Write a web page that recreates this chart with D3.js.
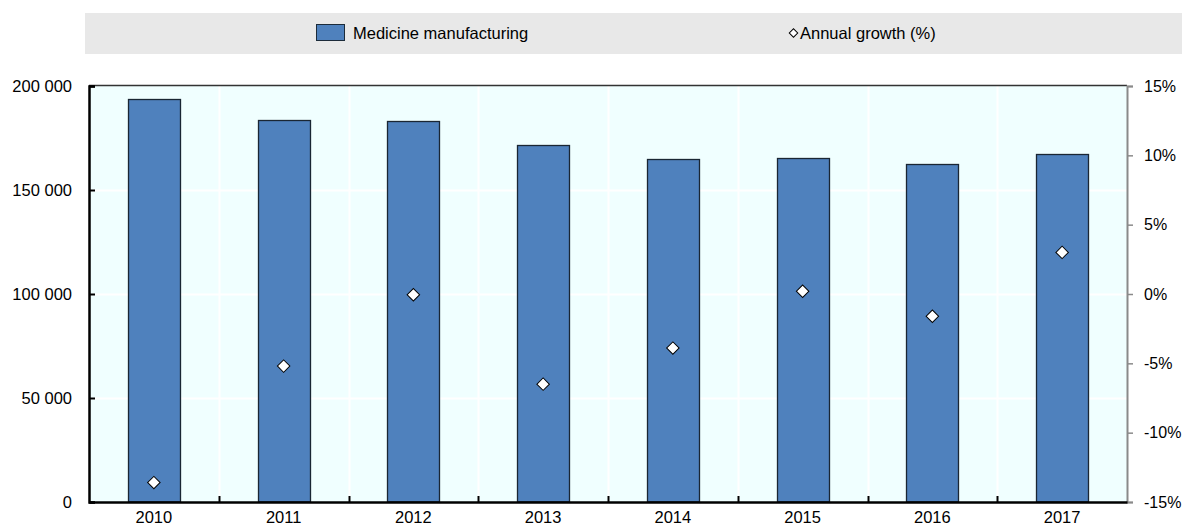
<!DOCTYPE html>
<html><head><meta charset="utf-8">
<script src="https://cdn.jsdelivr.net/npm/d3@7"></script>
<style>body{margin:0;background:#fff;} text{font-family:"Liberation Sans",Arial,sans-serif;}</style>
</head><body>
<svg id="c" width="1182" height="525"></svg>
<script>
const years = ["2010","2011","2012","2013","2014","2015","2016","2017"];
const medicine = [193700, 183700, 183200, 171600, 164900, 165300, 162400, 167300];
const growth = [-13.6, -5.2, -0.05, -6.5, -3.9, 0.2, -1.6, 3.0];
const leftTicks = [0, 50000, 100000, 150000, 200000];
const rightTicks = [-15, -10, -5, 0, 5, 10, 15];
const seriesNames = ["Medicine manufacturing", "Annual growth (%)"];

const svg = d3.select("#c");
const L = 89, R = 1127, T = 86, B = 502;
const FS = 16.5;
const x = d3.scaleBand().domain(years).range([L, R]).paddingInner(0).paddingOuter(0);
const yL = d3.scaleLinear().domain([0, 200000]).range([B, T]);
const yR = d3.scaleLinear().domain([-15, 15]).range([B, T]);
const fmt = d => d3.format(",")(d).replace(/,/g, " ");

// legend band
svg.append("rect").attr("x", 85).attr("y", 13).attr("width", 1097).attr("height", 41).attr("fill", "#E8E8E8");
svg.append("rect").attr("x", 316.5).attr("y", 24.5).attr("width", 28).attr("height", 16)
  .attr("fill", "#4F81BD").attr("stroke", "#1c2b3a").attr("stroke-width", 1);
svg.append("text").attr("x", 353).attr("y", 38.5).attr("font-size", FS).attr("fill", "#000").text(seriesNames[0]);
svg.append("path").attr("d", d3.symbol().type(d3.symbolSquare).size(36)())
  .attr("transform", "translate(793.5,33) rotate(45)").attr("fill", "#fff").attr("stroke", "#000").attr("stroke-width", 1);
svg.append("text").attr("x", 800).attr("y", 38.5).attr("font-size", FS).attr("fill", "#000").text(seriesNames[1]);

// plot background
svg.append("rect").attr("x", L).attr("y", T).attr("width", R - L).attr("height", B - T).attr("fill", "#F0FFFF");

// gridlines
svg.append("g").selectAll("line").data(leftTicks.filter(d => d > 0 && d < 200000)).join("line")
  .attr("x1", L).attr("x2", R).attr("y1", d => Math.round(yL(d)) + 0.5).attr("y2", d => Math.round(yL(d)) + 0.5)
  .attr("stroke", "#fff").attr("stroke-width", 2);
svg.append("g").selectAll("line").data(years.slice(1)).join("line")
  .attr("x1", d => Math.round(x(d)) + 0.5).attr("x2", d => Math.round(x(d)) + 0.5).attr("y1", T).attr("y2", B)
  .attr("stroke", "#fff").attr("stroke-width", 2);

// bars
const bw = 52;
svg.append("g").selectAll("rect").data(years).join("rect")
  .attr("x", (d) => Math.round(x(d) + x.bandwidth() / 2 - bw / 2) + 0.5)
  .attr("y", (d, i) => Math.round(yL(medicine[i])) + 0.5)
  .attr("width", bw)
  .attr("height", (d, i) => B - Math.round(yL(medicine[i])) - 0.5)
  .attr("fill", "#4F81BD").attr("stroke", "#1a2633").attr("stroke-width", 1.3);

// top border
svg.append("line").attr("x1", L).attr("x2", R).attr("y1", T - 0.5).attr("y2", T - 0.5).attr("stroke", "#333").attr("stroke-width", 1.5);

// left axis
const gl = svg.append("g").attr("transform", `translate(${L},0)`)
  .call(d3.axisLeft(yL).tickValues(leftTicks).tickFormat(fmt).tickSize(-6).tickPadding(17));
gl.select(".domain").attr("stroke", "#000").attr("stroke-width", 2.5);
gl.selectAll(".tick line").attr("stroke", "#000").attr("stroke-width", 2);
gl.selectAll("text").attr("font-size", FS).attr("fill", "#000").attr("font-family", "Liberation Sans, Arial, sans-serif");

// right axis
const gr = svg.append("g").attr("transform", `translate(${R},0)`)
  .call(d3.axisRight(yR).tickValues(rightTicks).tickFormat(d => d + "%").tickSize(6).tickPadding(11));
gr.select(".domain").attr("stroke", "#8a8a8a").attr("stroke-width", 2);
gr.selectAll(".tick line").attr("stroke", "#8a8a8a").attr("stroke-width", 1.5);
gr.selectAll("text").attr("font-size", 16).attr("fill", "#000").attr("font-family", "Liberation Sans, Arial, sans-serif");

// bottom axis
const gb = svg.append("g").attr("transform", `translate(0,${B})`)
  .call(d3.axisBottom(x).tickSize(0).tickPadding(9));
gb.select(".domain").attr("stroke", "#000").attr("stroke-width", 2.5);
gb.selectAll("text").attr("font-size", FS).attr("fill", "#000").attr("font-family", "Liberation Sans, Arial, sans-serif");
svg.append("g").selectAll("line").data(years.slice(1)).join("line")
  .attr("x1", d => Math.round(x(d)) + 0.5).attr("x2", d => Math.round(x(d)) + 0.5).attr("y1", B).attr("y2", B - 6)
  .attr("stroke", "#000").attr("stroke-width", 2);

// diamonds
svg.append("g").selectAll("path").data(years).join("path")
  .attr("d", d3.symbol().type(d3.symbolSquare).size(78)())
  .attr("transform", (d, i) => `translate(${x(d) + x.bandwidth() / 2},${yR(growth[i])}) rotate(45)`)
  .attr("fill", "#fff").attr("stroke", "#000").attr("stroke-width", 1);
</script>
</body></html>
